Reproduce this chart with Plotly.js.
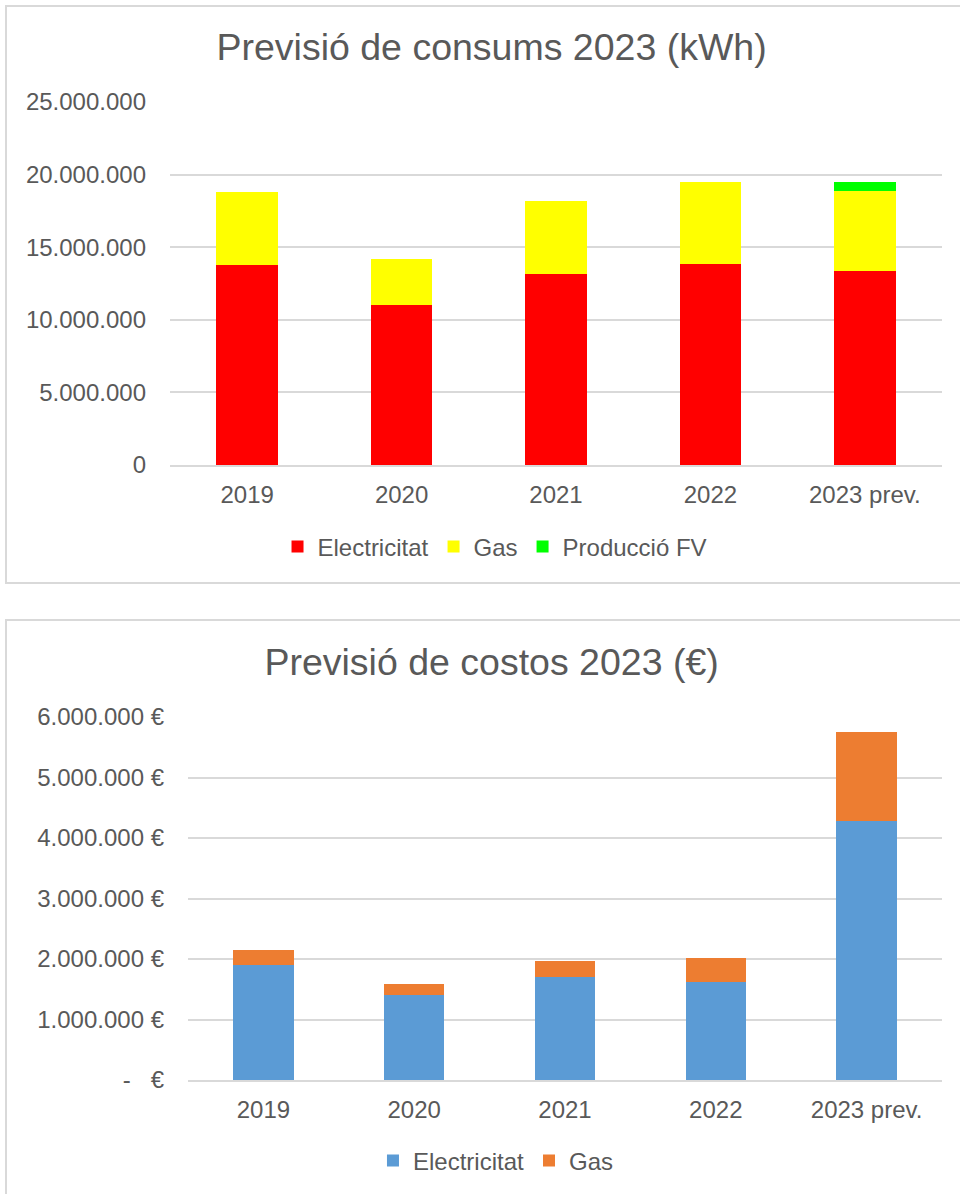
<!DOCTYPE html>
<html>
<head>
<meta charset="utf-8">
<script src="https://cdn.plot.ly/plotly-3.0.1.min.js"></script>
<style>
  html, body { margin: 0; padding: 0; background: #ffffff; overflow: hidden; width: 960px; height: 1194px; }
  .chart { position: absolute; }
  .frame { position: absolute; border: 2px solid #d9d9d9; pointer-events: none; box-sizing: border-box; }
</style>
</head>
<body>
<div id="c1" class="chart" style="left:6px; top:6px; width:954px; height:577px;"></div>
<div class="frame" style="left:5px; top:5px; width:990px; height:579px;"></div>
<div id="c2" class="chart" style="left:6px; top:620px; width:954px; height:574px;"></div>
<div class="frame" style="left:5px; top:619px; width:990px; height:600px;"></div>
<script>
// ---- data ----
const categories = ['2019', '2020', '2021', '2022', '2023 prev.'];

const consumElectricitat = [13770000, 11000000, 13150000, 13840000, 13340000];
const consumGas          = [5030000, 3190000, 5030000, 5670000, 5530000];
const consumProduccioFV  = [null, null, null, null, 640000];

const costElectricitat = [1900000, 1410000, 1700000, 1620000, 4280000];
const costGas          = [250000, 170000, 260000, 400000, 1480000];

const consumTickVals = [0, 5000000, 10000000, 15000000, 20000000, 25000000];
const consumTickText = ['0', '5.000.000', '10.000.000', '15.000.000', '20.000.000', '25.000.000'];
const costTickVals = [0, 1000000, 2000000, 3000000, 4000000, 5000000, 6000000];
const costTickText = ['-\u00a0\u00a0\u00a0€', '1.000.000 €', '2.000.000 €', '3.000.000 €', '4.000.000 €', '5.000.000 €', '6.000.000 €'];

// ---- style ----
const FONT = 'Liberation Sans, Arial, sans-serif';
const TXT = '#595959';
const GRID = '#d9d9d9';

function baseLayout(title, titleY, legendX, legendY, margin, yRange, tickVals, tickText) {
  return {
    width: 954,
    height: margin.h,
    paper_bgcolor: '#ffffff',
    plot_bgcolor: '#ffffff',
    font: { family: FONT, color: TXT, size: 24 },
    title: {
      text: title,
      font: { family: FONT, color: TXT, size: 37.5 },
      xref: 'container', x: 0.509, xanchor: 'center',
      yref: 'container', y: titleY, yanchor: 'middle'
    },
    margin: { l: margin.l, r: margin.r, t: margin.t, b: margin.b, pad: 0 },
    barmode: 'stack',
    bargap: 0.6,
    showlegend: true,
    legend: {
      orientation: 'h',
      xref: 'container', x: legendX, xanchor: 'center',
      yref: 'container', y: legendY, yanchor: 'middle',
      font: { family: FONT, color: TXT, size: 24 },
      itemwidth: 30,
      itemgap: 24,
      traceorder: 'normal',
      itemclick: false
    },
    xaxis: {
      type: 'category',
      showgrid: false,
      zeroline: false,
      showline: true,
      linecolor: GRID,
      linewidth: 2,
      ticks: '',
      ticklabelstandoff: 7,
      tickfont: { family: FONT, color: TXT, size: 24 },
      fixedrange: true
    },
    yaxis: {
      range: yRange,
      tickmode: 'array',
      tickvals: tickVals,
      ticktext: tickText,
      showgrid: true,
      gridcolor: GRID,
      gridwidth: 2,
      zeroline: false,
      showline: false,
      ticks: '',
      ticklabelstandoff: 23,
      tickfont: { family: FONT, color: TXT, size: 24 },
      fixedrange: true
    }
  };
}

const traces1 = [
  { type: 'bar', name: 'Electricitat', x: categories, y: consumElectricitat, marker: { color: '#ff0000' } },
  { type: 'bar', name: 'Gas', x: categories, y: consumGas, marker: { color: '#ffff00' } },
  { type: 'bar', name: 'Producció FV', x: categories, y: consumProduccioFV, marker: { color: '#00ff00' } }
];
const layout1 = baseLayout('Previsió de consums 2023 (kWh)', 1 - 41 / 577, 0.5126, 1 - 541 / 577,
  { l: 164, r: 18, t: 96, b: 118, h: 577 }, [0, 25000000], consumTickVals, consumTickText);

const traces2 = [
  { type: 'bar', name: 'Electricitat', x: categories, y: costElectricitat, marker: { color: '#5b9bd5' } },
  { type: 'bar', name: 'Gas', x: categories, y: costGas, marker: { color: '#ed7d31' } }
];
const layout2 = baseLayout('Previsió de costos 2023 (€)', 1 - 42 / 574, 0.5136, 1 - 541 / 574,
  { l: 182, r: 18, t: 97, b: 114, h: 574 }, [0, 6000000], costTickVals, costTickText);

Plotly.newPlot('c1', traces1, layout1, { displayModeBar: false, staticPlot: true });
Plotly.newPlot('c2', traces2, layout2, { displayModeBar: false, staticPlot: true });
</script>
</body>
</html>
